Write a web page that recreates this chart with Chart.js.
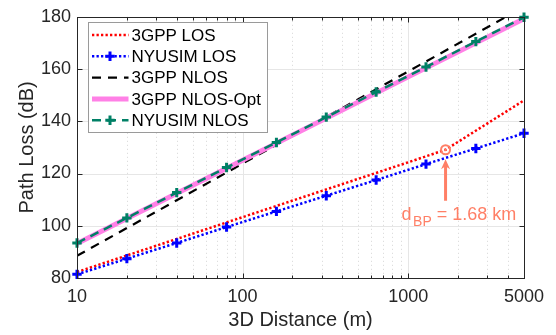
<!DOCTYPE html>
<html>
<head>
<meta charset="utf-8">
<script src="https://cdn.jsdelivr.net/npm/chart.js@4.4.1/dist/chart.umd.min.js"></script>
<style>
html, body { margin: 0; padding: 0; background: #fff; }
canvas { display: block; }
</style>
</head>
<body>
<canvas id="chart" width="556" height="335"></canvas>
<script>
// distances (m) of the NYUSIM marker points
const nyuDist = [10, 20, 40, 80, 160, 320, 640, 1280, 2560, 5000]
const nyuLos = [81.4, 87.4, 93.4, 99.5, 105.5, 111.5, 117.5, 123.6, 129.6, 135.4]
const nyuNlos = [93.4, 103.0, 112.7, 122.3, 131.9, 141.6, 151.2, 160.8, 170.5, 179.8]

// 3GPP curves (straight on a log axis, LOS bends at the breakpoint)
const gppLosDist = [10, 100, 1000, 1680, 5000]
const gppLos = [82.3, 103.3, 124.3, 129.1, 148.0]
const gppNlosDist = [10, 100, 1000, 5000]
const gppNlos = [88.5, 123.8, 159.1, 183.8]
const gppNlosOpt = [93.2, 125.1, 157.0, 179.3]

// axes
const xTickLabels = [10, 100, 1000, 5000]
const xMinorGrid = [20, 30, 40, 50, 60, 70, 80, 90, 200, 300, 400, 500, 600, 700, 800, 900, 2000, 3000, 4000]
const xMajorGrid = [100, 1000]
const yTicks = [80, 100, 120, 140, 160, 180]

// breakpoint annotation
const bpDist = 1680
const bpLoss = 129.1
const bpText = ' = 1.68 km'

const FONT = "'Liberation Sans', Arial, Helvetica, sans-serif"
const AXIS = '#262626'
const NOTE = '#ff7f66'

Chart.defaults.font.family = FONT

function pts(xs, ys) {
    return xs.map((d, i) => ({ x: d, y: ys[i] }))
}

// grid, box with inside ticks, legend and annotation, MATLAB style
const matlabAxes = {
    id: 'matlabAxes',

    beforeDatasetsDraw(chart) {
        const { ctx, chartArea: a, scales: { x, y } } = chart
        ctx.save()
        ctx.lineWidth = 1

        ctx.strokeStyle = '#d6d6d6'
        ctx.setLineDash([1, 3])
        xMinorGrid.forEach(v => {
            const px = Math.round(x.getPixelForValue(v)) + 0.5
            ctx.beginPath(); ctx.moveTo(px, a.top); ctx.lineTo(px, a.bottom); ctx.stroke()
        })

        ctx.setLineDash([])
        ctx.strokeStyle = '#e6e6e6'
        xMajorGrid.forEach(v => {
            const px = Math.round(x.getPixelForValue(v)) + 0.5
            ctx.beginPath(); ctx.moveTo(px, a.top); ctx.lineTo(px, a.bottom); ctx.stroke()
        })
        yTicks.forEach(v => {
            const py = Math.round(y.getPixelForValue(v)) + 0.5
            ctx.beginPath(); ctx.moveTo(a.left, py); ctx.lineTo(a.right, py); ctx.stroke()
        })
        ctx.restore()
    },

    afterDatasetsDraw(chart) {
        const { ctx, chartArea: a, scales: { x, y } } = chart
        ctx.save()

        // box
        ctx.strokeStyle = AXIS
        ctx.lineWidth = 1
        const L = Math.round(a.left) + 0.5, R = Math.round(a.right) + 0.5
        const T = Math.round(a.top) + 0.5, B = Math.round(a.bottom) + 0.5
        ctx.strokeRect(L, T, R - L, B - T)

        // ticks pointing inwards
        ctx.beginPath()
        const xt = (v, len) => {
            const px = Math.round(x.getPixelForValue(v)) + 0.5
            ctx.moveTo(px, B); ctx.lineTo(px, B - len)
            ctx.moveTo(px, T); ctx.lineTo(px, T + len)
        }
        xTickLabels.forEach(v => xt(v, 5))
        xMinorGrid.forEach(v => xt(v, 3))
        yTicks.forEach(v => {
            const py = Math.round(y.getPixelForValue(v)) + 0.5
            ctx.moveTo(L, py); ctx.lineTo(L + 5, py)
            ctx.moveTo(R, py); ctx.lineTo(R - 5, py)
        })
        ctx.stroke()

        // breakpoint marker, arrow and label
        const bx = x.getPixelForValue(bpDist)
        const by = y.getPixelForValue(bpLoss)
        ctx.strokeStyle = NOTE
        ctx.fillStyle = NOTE
        ctx.lineWidth = 2
        ctx.beginPath(); ctx.arc(bx, by, 4.5, 0, Math.PI * 2); ctx.stroke()
        ctx.beginPath(); ctx.arc(bx, by, 1.3, 0, Math.PI * 2); ctx.fill()

        const tip = by + 9.5
        const tail = by + 51
        ctx.lineWidth = 3
        ctx.beginPath(); ctx.moveTo(bx, tail); ctx.lineTo(bx, tip + 6); ctx.stroke()
        ctx.beginPath()
        ctx.moveTo(bx, tip)
        ctx.lineTo(bx + 4.5, tip + 10)
        ctx.lineTo(bx, tip + 7)
        ctx.lineTo(bx - 4.5, tip + 10)
        ctx.closePath()
        ctx.fill()

        let tx = bx - 44
        const base = tail + 19
        ctx.textBaseline = 'alphabetic'
        ctx.textAlign = 'left'
        ctx.font = '18px ' + FONT
        ctx.fillText('d', tx, base)
        tx += ctx.measureText('d').width + 1.5
        ctx.font = '14px ' + FONT
        ctx.fillText('BP', tx, base + 6)
        tx += ctx.measureText('BP').width
        ctx.font = '18px ' + FONT
        ctx.fillText(bpText, tx, base)

        // legend
        const lx = 88.5, ly = 22.5, lw = 179, lh = 110
        ctx.fillStyle = '#fff'
        ctx.fillRect(lx, ly, lw, lh)
        ctx.strokeStyle = '#9a9a9a'
        ctx.lineWidth = 1
        ctx.strokeRect(lx, ly, lw, lh)

        ctx.font = '17px ' + FONT
        ctx.textBaseline = 'middle'
        chart.data.datasets.forEach((ds, i) => {
            const ry = 35 + i * 21.3
            ctx.save()
            ctx.strokeStyle = ds.borderColor
            ctx.lineWidth = ds.borderWidth
            ctx.setLineDash(ds.borderDash || [])
            ctx.beginPath(); ctx.moveTo(92, ry); ctx.lineTo(128.5, ry); ctx.stroke()
            if (ds.pointRadius > 0) {
                ctx.setLineDash([])
                ctx.lineWidth = ds.pointBorderWidth
                ctx.beginPath()
                ctx.moveTo(110 - ds.pointRadius, ry); ctx.lineTo(110 + ds.pointRadius, ry)
                ctx.moveTo(110, ry - ds.pointRadius); ctx.lineTo(110, ry + ds.pointRadius)
                ctx.stroke()
            }
            ctx.restore()
            ctx.fillStyle = '#000'
            ctx.fillText(ds.label, 131.5, ry + 1)
        })

        ctx.restore()
    }
}

const datasets = [
    {
        label: '3GPP LOS',
        data: pts(gppLosDist, gppLos),
        borderColor: '#ff0000',
        borderWidth: 2.5,
        borderDash: [2.3, 2.2],
        pointRadius: 0,
        order: 5
    },
    {
        label: 'NYUSIM LOS',
        data: pts(nyuDist, nyuLos),
        borderColor: '#0000ff',
        borderWidth: 2.5,
        borderDash: [2.3, 2.2],
        pointStyle: 'cross',
        pointRadius: 4.7,
        pointBorderWidth: 3,
        pointBorderColor: '#0000ff',
        clip: false,
        order: 4
    },
    {
        label: '3GPP NLOS',
        data: pts(gppNlosDist, gppNlos),
        borderColor: '#000000',
        borderWidth: 2.2,
        borderDash: [9, 7],
        pointRadius: 0,
        order: 3
    },
    {
        label: '3GPP NLOS-Opt',
        data: pts(gppNlosDist, gppNlosOpt),
        borderColor: '#ff80e6',
        borderWidth: 5,
        pointRadius: 0,
        order: 2
    },
    {
        label: 'NYUSIM NLOS',
        data: pts(nyuDist, nyuNlos),
        borderColor: '#008066',
        borderWidth: 2.5,
        borderDash: [9, 6],
        pointStyle: 'cross',
        pointRadius: 4.7,
        pointBorderWidth: 3,
        pointBorderColor: '#008066',
        clip: false,
        order: 1
    }
]

new Chart(document.getElementById('chart'), {
    type: 'line',
    data: { datasets: datasets },
    options: {
        responsive: false,
        animation: false,
        devicePixelRatio: 1,
        events: [],
        layout: { padding: { top: 10, right: 32, left: 0, bottom: 0 } },
        elements: { line: { tension: 0, fill: false } },
        plugins: { legend: { display: false }, tooltip: { enabled: false } },
        scales: {
            x: {
                type: 'logarithmic',
                min: 10,
                max: 5000,
                afterBuildTicks: s => { s.ticks = xTickLabels.map(v => ({ value: v })) },
                afterFit: s => { s.height = 57 },
                grid: { display: false, drawTicks: false },
                border: { display: false },
                ticks: {
                    autoSkip: false,
                    maxRotation: 0,
                    padding: 8,
                    color: AXIS,
                    font: { size: 18 },
                    callback: v => String(v)
                },
                title: {
                    display: true,
                    text: '3D Distance (m)',
                    color: AXIS,
                    font: { size: 20 },
                    padding: { top: 0, bottom: 3 }
                }
            },
            y: {
                min: 80,
                max: 180,
                afterFit: s => { s.width = 77 },
                grid: { display: false, drawTicks: false },
                border: { display: false },
                ticks: {
                    stepSize: 20,
                    padding: 6,
                    color: AXIS,
                    font: { size: 18 }
                },
                title: {
                    display: true,
                    text: 'Path Loss (dB)',
                    color: AXIS,
                    font: { size: 20 },
                    padding: { top: 15, bottom: 0 }
                }
            }
        }
    },
    plugins: [matlabAxes]
})
</script>
</body>
</html>
